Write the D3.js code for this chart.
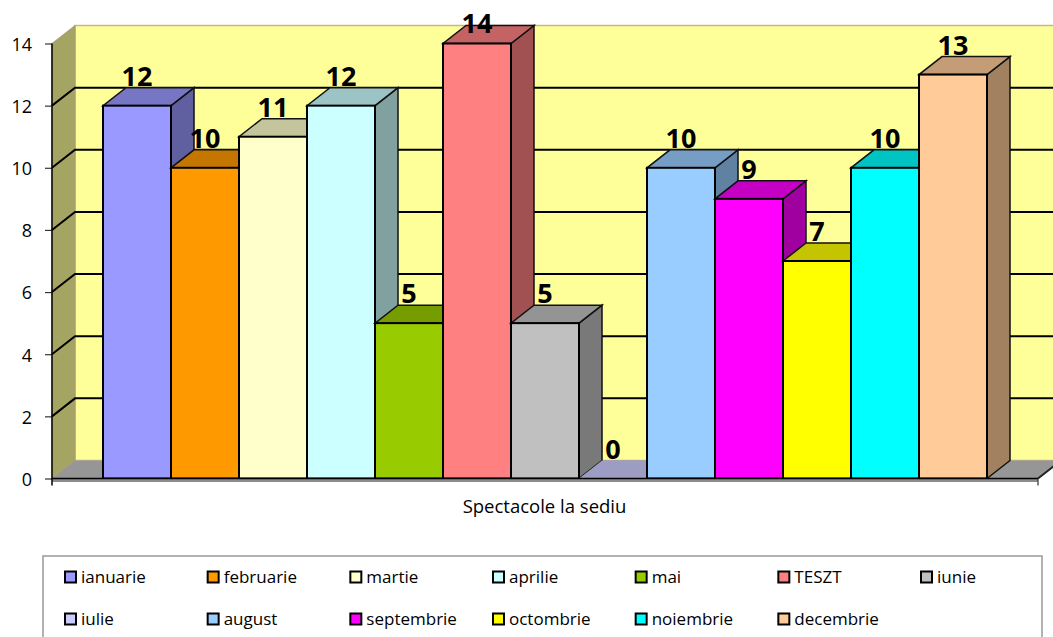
<!DOCTYPE html>
<html>
<head>
<meta charset="utf-8">
<script src="https://cdn.jsdelivr.net/npm/d3@7"></script>
<style>
html, body { margin: 0; padding: 0; background: #fff; overflow: hidden; }
svg { display: block; font-family: "Open Sans", sans-serif; }
</style>
</head>
<body>
<div id="chart"></div>
<script>
var width = 1053;
var height = 637;

// data
var months = ['ianuarie', 'februarie', 'martie', 'aprilie', 'mai', 'TESZT', 'iunie',
	'iulie', 'august', 'septembrie', 'octombrie', 'noiembrie', 'decembrie'];
var counts = [12, 10, 11, 12, 5, 14, 5, 0, 10, 9, 7, 10, 13];
var barColors = ['#9999ff', '#ff9900', '#ffffcc', '#ccffff', '#99cc00', '#ff8080', '#c0c0c0',
	'#ccccff', '#99ccff', '#ff00ff', '#ffff00', '#00ffff', '#ffcc99'];
var yTicks = [0, 2, 4, 6, 8, 10, 12, 14];
var groupLabel = 'Spectacole la sediu';

//3d offset of the back wall
var depthX = 23;
var depthY = -18;

var x = d3.scaleBand().domain(months).range([52, 1038]).paddingInner(0).paddingOuter(0.75);
var y = d3.scaleLinear().domain([0, 14]).range([478.5, 43.5]);

var svg = d3.select('#chart').append('svg')
	.attr('width', width)
	.attr('height', height);

function shade(color, k) {
	var c = d3.rgb(color);
	return d3.rgb(c.r * k, c.g * k, c.b * k).formatHex();
}

function poly(points) {
	return points.map(function(p) { return p[0] + ',' + p[1]; }).join(' ');
}

var x0 = x.range()[0];
var x1 = x.range()[1];
var yBase = y(0);
var yTop = y(14);

// back wall
svg.append('polygon')
	.attr('points', poly([[x0 + depthX, yBase + depthY], [x1 + depthX, yBase + depthY], [x1 + depthX, yTop + depthY], [x0 + depthX, yTop + depthY]]))
	.style('fill', '#ffff99')
	.style('stroke', '#c9b48f')
	.style('stroke-width', 1.5);

// left wall
svg.append('polygon')
	.attr('points', poly([[x0, yBase], [x0 + depthX, yBase + depthY], [x0 + depthX, yTop + depthY], [x0, yTop]]))
	.style('fill', '#a5a563')
	.style('stroke', '#ad9a78')
	.style('stroke-width', 1);

// floor
svg.append('polygon')
	.attr('points', poly([[x0, yBase], [x1, yBase], [x1 + depthX, yBase + depthY], [x0 + depthX, yBase + depthY]]))
	.style('fill', '#969696');

// right edge of the floor
svg.append('line')
	.attr('x1', x1).attr('y1', yBase)
	.attr('x2', x1 + depthX).attr('y2', yBase + depthY)
	.style('stroke', '#222')
	.style('stroke-width', 2);

// gridlines run along the left wall then across the back
svg.append('g').selectAll('polyline')
	.data(yTicks.filter(function(d) { return d > 0 && d < 14; }))
	.enter().append('polyline')
	.attr('points', function(d) {
		return poly([[x0, y(d)], [x0 + depthX, y(d) + depthY], [x1 + depthX, y(d) + depthY]]);
	})
	.style('fill', 'none')
	.style('stroke', '#000')
	.style('stroke-width', 2);

// bars, painted left to right
var bars = svg.append('g').selectAll('g')
	.data(months)
	.enter().append('g');

function valueOf(i) { return counts[i]; }

bars.append('polygon')
	.attr('points', function(d, i) {
		var r = x(d) + x.bandwidth();
		var t = y(valueOf(i));
		return poly([[r, yBase], [r + depthX, yBase + depthY], [r + depthX, t + depthY], [r, t]]);
	})
	.style('fill', function(d, i) { return shade(barColors[i], 0.63); })
	.style('stroke', function(d, i) { return valueOf(i) > 0 ? '#111' : 'none'; })
	.style('stroke-width', 1.5);

bars.append('polygon')
	.attr('points', function(d, i) {
		var l = x(d);
		var r = l + x.bandwidth();
		var t = y(valueOf(i));
		return poly([[l, t], [r, t], [r + depthX, t + depthY], [l + depthX, t + depthY]]);
	})
	.style('fill', function(d, i) { return shade(barColors[i], 0.77); })
	.style('stroke', function(d, i) { return valueOf(i) > 0 ? '#111' : 'none'; })
	.style('stroke-width', 1.5);

bars.append('rect')
	.attr('x', function(d) { return x(d); })
	.attr('y', function(d, i) { return y(valueOf(i)); })
	.attr('width', x.bandwidth())
	.attr('height', function(d, i) { return yBase - y(valueOf(i)); })
	.style('fill', function(d, i) { return barColors[i]; })
	.style('stroke', '#000')
	.style('stroke-width', 2);

// value labels sit on the back edge of each bar top,
// the tallest one gets pushed down so it stays on the page
bars.append('text')
	.attr('x', function(d) { return x(d) + x.bandwidth() / 2; })
	.attr('y', function(d, i) { return Math.max(33, y(valueOf(i)) + depthY - 2); })
	.attr('text-anchor', 'middle')
	.style('font-size', '27px')
	.style('font-weight', 700)
	.style('fill', '#000')
	.text(function(d, i) { return valueOf(i); });

// front edge of the floor
svg.append('line')
	.attr('x1', x0).attr('x2', x1)
	.attr('y1', yBase + 2).attr('y2', yBase + 2)
	.style('stroke', '#8c8c8c')
	.style('stroke-width', 3);
svg.append('line')
	.attr('x1', x0).attr('x2', x1)
	.attr('y1', yBase).attr('y2', yBase)
	.style('stroke', '#000')
	.style('stroke-width', 1.5);
svg.append('line')
	.attr('x1', x1).attr('x2', x1)
	.attr('y1', yBase).attr('y2', yBase + 7)
	.style('stroke', '#333')
	.style('stroke-width', 1.2);

// y axis
var axis = svg.append('g')
	.attr('transform', 'translate(' + x0 + ',0)')
	.call(d3.axisLeft(y).tickValues(yTicks).tickSize(7).tickPadding(13).tickFormat(d3.format('d')));
axis.select('.domain').remove();
axis.append('line')
	.attr('y1', yTop).attr('y2', yBase + 7)
	.style('stroke', '#000')
	.style('stroke-width', 1.5);
axis.selectAll('.tick line').style('stroke', '#333').style('stroke-width', 1.2);
axis.selectAll('text')
	.attr('dy', '0.38em')
	.style('font-size', '18px')
	.style('fill', '#000')
	.style('font-family', '"Open Sans", sans-serif');

// category label
svg.append('text')
	.attr('x', 544.5)
	.attr('y', 513)
	.attr('text-anchor', 'middle')
	.style('font-size', '18.5px')
	.style('fill', '#000')
	.text(groupLabel);

// legend, cut off by the bottom of the picture as in the source
svg.append('rect')
	.attr('x', 43)
	.attr('y', 556)
	.attr('width', 999)
	.attr('height', 100)
	.style('fill', '#fff')
	.style('stroke', '#999')
	.style('stroke-width', 1.5);

var legendX = d3.scalePoint().domain(d3.range(7)).range([65, 921]);
var legendY = d3.scalePoint().domain([0, 1]).range([577, 619]);

var legend = svg.append('g').selectAll('g')
	.data(months)
	.enter().append('g')
	.attr('transform', function(d, i) {
		return 'translate(' + legendX(i % 7) + ',' + legendY(Math.floor(i / 7)) + ')';
	});

legend.append('rect')
	.attr('x', 0)
	.attr('y', -5.5)
	.attr('width', 11)
	.attr('height', 11)
	.style('fill', function(d, i) { return barColors[i]; })
	.style('stroke', '#000')
	.style('stroke-width', 2);

legend.append('text')
	.attr('x', 16)
	.attr('y', 6)
	.style('font-size', '17px')
	.style('fill', '#000')
	.text(function(d) { return d; });
</script>
</body>
</html>
